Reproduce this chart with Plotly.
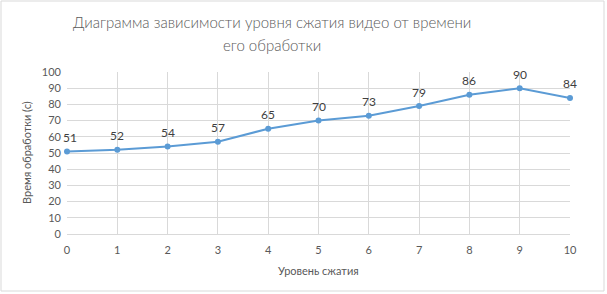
import plotly.graph_objects as go

levels = [0, 1, 2, 3, 4, 5, 6, 7, 8, 9, 10]
times = [51, 52, 54, 57, 65, 70, 73, 79, 86, 90, 84]
title_lines = ["Диаграмма зависимости уровня сжатия видео от времени", "его обработки"]
x_title = "Уровень сжатия"
y_title = "Время обработки (с)"

fig = go.Figure()
fig.add_trace(go.Scatter(
    x=levels, y=times, mode="lines+markers",
    line=dict(color="#5B9BD5", width=2),
    marker=dict(color="#5B9BD5", size=6),
    cliponaxis=False,
))

grid = "#D9D9D9"
font_family = "Lato, Liberation Sans, sans-serif"
L, R, T, B = 67, 37, 72, 60
PW, PH = 607 - L - R, 294 - T - B

label_annots = [
    dict(x=xv, y=yv, xref="x", yref="y", text=str(yv), showarrow=False,
         yshift=14, xshift=3 if i == 0 else 0, xanchor="center", yanchor="middle",
         font=dict(size=12, color="#404040"))
    for i, (xv, yv) in enumerate(zip(levels, times))
]

fig.update_layout(
    width=607, height=294,
    margin=dict(l=L, r=R, t=T, b=B, autoexpand=False),
    paper_bgcolor="white", plot_bgcolor="white",
    font=dict(family=font_family, color="#595959", size=11),
    showlegend=False,
    xaxis=dict(range=[0, 10], tickvals=levels, showgrid=True, gridcolor=grid,
               zeroline=False, showline=True, linecolor=grid, ticks="", ticklabelstandoff=6,
               automargin=False, tickfont=dict(size=11)),
    yaxis=dict(range=[0, 100], dtick=10, showgrid=True, gridcolor=grid,
               zeroline=False, showline=False, ticks="", ticklabelstandoff=5,
               automargin=False, tickfont=dict(size=11)),
    annotations=label_annots + [
        dict(text=title_lines[0], xref="paper", yref="paper", x=(272 - L) / PW, y=1 + (T - 22) / PH,
             showarrow=False, font=dict(size=15, color="#595959", weight=300), xanchor="center", yanchor="middle"),
        dict(text=title_lines[1], xref="paper", yref="paper", x=(272 - L) / PW, y=1 + (T - 45) / PH,
             showarrow=False, font=dict(size=15, color="#595959", weight=300), xanchor="center", yanchor="middle"),
        dict(text=x_title, xref="paper", yref="paper", x=0.5, y=-(270 - T - PH) / PH,
             showarrow=False, font=dict(size=11, color="#595959"), xanchor="center", yanchor="middle"),
        dict(text=y_title, xref="paper", yref="paper", x=-(L - 26) / PW, y=0.5, textangle=-90,
             showarrow=False, font=dict(size=11, color="#595959"), xanchor="center", yanchor="middle"),
    ],
    shapes=[dict(type="rect", xref="paper", yref="paper", x0=-(L - 1) / PW, x1=1 + (R - 3) / PW,
                 y0=-(B - 3) / PH, y1=1 + (T - 1) / PH, line=dict(color="#D9D9D9", width=1))],
)

fig.write_html("out.html", config={"displayModeBar": False},
               post_script="document.body.style.margin='0';document.body.style.padding='0';")
